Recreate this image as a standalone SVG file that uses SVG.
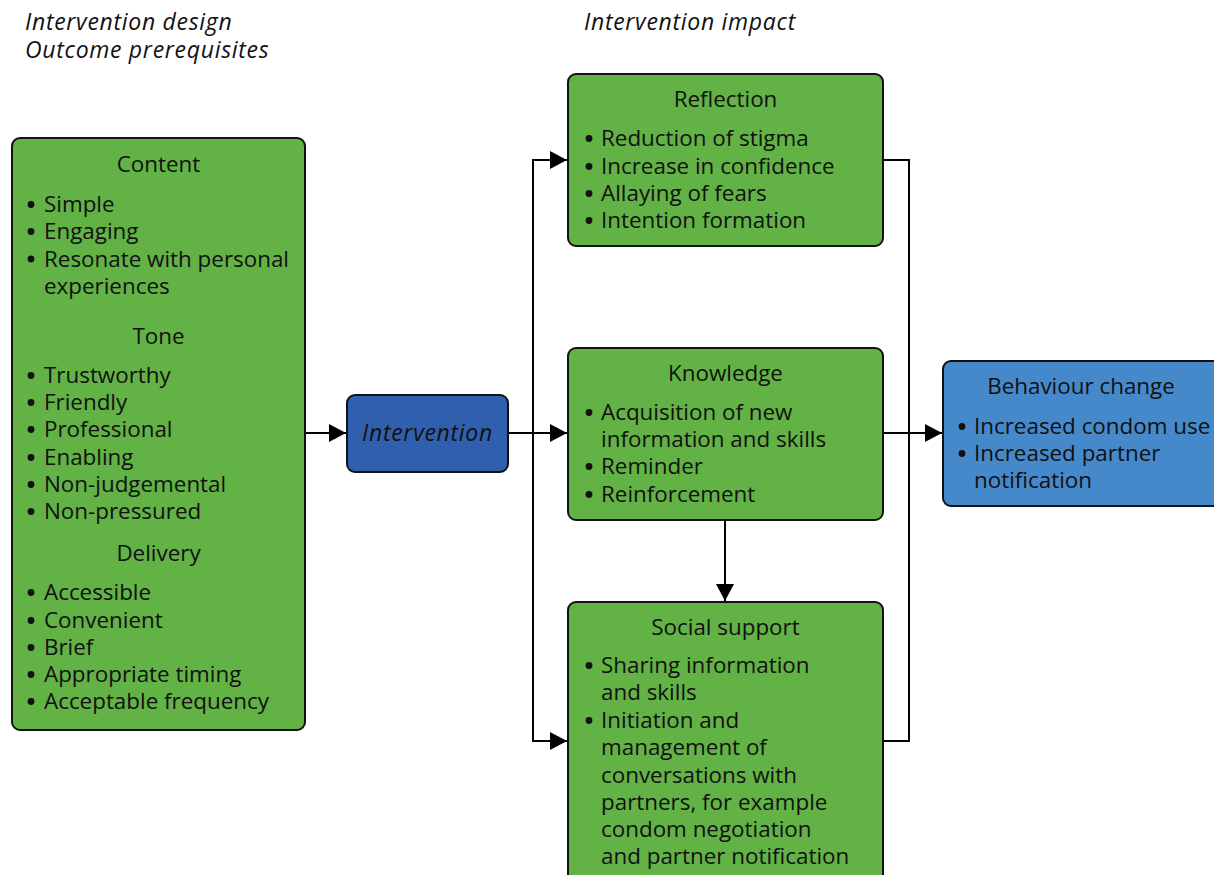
<svg xmlns="http://www.w3.org/2000/svg" width="1214" height="875" viewBox="0 0 1214 875">
<defs>
<style>
text{font-family:"Open Sans","Liberation Sans",sans-serif;font-size:22.4px;fill:#111}
.h{text-anchor:middle}
.i{font-style:italic;font-size:23px;letter-spacing:0.7px}
.u circle{fill:#111}
.g{fill:#62b246;stroke:#111;stroke-width:2}
.b1{fill:#305fad;stroke:#111;stroke-width:2}
.b2{fill:#4589ca;stroke:#111;stroke-width:2}
.c{fill:none;stroke:#000;stroke-width:2}
</style>
<marker id="a" markerUnits="userSpaceOnUse" markerWidth="17" markerHeight="18" viewBox="0 0 17 18" refX="17" refY="9" orient="auto">
<path d="M0,0 L17,9 L0,18 Z" fill="#000"/>
</marker>
</defs>
<g id="labels">
<text class="i" x="25" y="30">Intervention design</text>
<text class="i" x="25" y="58">Outcome prerequisites</text>
<text class="i" x="584" y="30">Intervention impact</text>
</g>
<g id="connectors">
<path class="c" d="M305,433 H346" marker-end="url(#a)"/>
<path class="c" d="M508,433 H567" marker-end="url(#a)"/>
<path class="c" d="M533,433 V160 H567" marker-end="url(#a)"/>
<path class="c" d="M533,433 V741 H567" marker-end="url(#a)"/>
<path class="c" d="M725,520 V601" marker-end="url(#a)"/>
<path class="c" d="M883,160 H909 V741 H883"/>
<path class="c" d="M883,433 H942" marker-end="url(#a)"/>
</g>
<g id="content">
<rect class="g" x="12" y="138" width="293" height="592" rx="8"/>
<text class="h" x="158.5" y="172">Content</text>
<g class="u">
<circle cx="31" cy="204.5" r="3.4"/><circle cx="31" cy="231.5" r="3.4"/><circle cx="31" cy="259" r="3.4"/>
<circle cx="31" cy="375.5" r="3.4"/><circle cx="31" cy="402.5" r="3.4"/><circle cx="31" cy="429.5" r="3.4"/><circle cx="31" cy="457.5" r="3.4"/><circle cx="31" cy="484.5" r="3.4"/><circle cx="31" cy="511.5" r="3.4"/>
<circle cx="31" cy="592.5" r="3.4"/><circle cx="31" cy="620.5" r="3.4"/><circle cx="31" cy="647.5" r="3.4"/><circle cx="31" cy="674.5" r="3.4"/><circle cx="31" cy="701.5" r="3.4"/>
</g>
<text x="44" y="212">Simple</text>
<text x="44" y="239">Engaging</text>
<text x="44" y="266.5">Resonate with personal</text>
<text x="44" y="294">experiences</text>
<text class="h" x="158.5" y="344">Tone</text>
<text x="44" y="383">Trustworthy</text>
<text x="44" y="410">Friendly</text>
<text x="44" y="437">Professional</text>
<text x="44" y="465">Enabling</text>
<text x="44" y="492">Non-judgemental</text>
<text x="44" y="519">Non-pressured</text>
<text class="h" x="158.5" y="561">Delivery</text>
<text x="44" y="600">Accessible</text>
<text x="44" y="628">Convenient</text>
<text x="44" y="655">Brief</text>
<text x="44" y="682">Appropriate timing</text>
<text x="44" y="709">Acceptable frequency</text>
</g>
<g id="intervention">
<rect class="b1" x="347" y="395" width="161" height="77" rx="8"/>
<text class="h i" x="427.5" y="441">Intervention</text>
</g>
<g id="reflection">
<rect class="g" x="568" y="74" width="315" height="172" rx="8"/>
<text class="h" x="725.5" y="107">Reflection</text>
<g class="u"><circle cx="589" cy="138.5" r="3.4"/><circle cx="589" cy="166.5" r="3.4"/><circle cx="589" cy="193.5" r="3.4"/><circle cx="589" cy="220.5" r="3.4"/></g>
<text x="601" y="146">Reduction of stigma</text>
<text x="601" y="174">Increase in confidence</text>
<text x="601" y="201">Allaying of fears</text>
<text x="601" y="228">Intention formation</text>
</g>
<g id="knowledge">
<rect class="g" x="568" y="348" width="315" height="172" rx="8"/>
<text class="h" x="725.5" y="381">Knowledge</text>
<g class="u"><circle cx="589" cy="412.5" r="3.4"/><circle cx="589" cy="466.5" r="3.4"/><circle cx="589" cy="494.5" r="3.4"/></g>
<text x="601" y="420">Acquisition of new</text>
<text x="601" y="447">information and skills</text>
<text x="601" y="474">Reminder</text>
<text x="601" y="502">Reinforcement</text>
</g>
<g id="social-support">
<rect class="g" x="568" y="602" width="315" height="290" rx="8"/>
<text class="h" x="725.5" y="635">Social support</text>
<g class="u"><circle cx="589" cy="665.5" r="3.4"/><circle cx="589" cy="720.5" r="3.4"/></g>
<text x="601" y="673">Sharing information</text>
<text x="601" y="700">and skills</text>
<text x="601" y="728">Initiation and</text>
<text x="601" y="755">management of</text>
<text x="601" y="783">conversations with</text>
<text x="601" y="810">partners, for example</text>
<text x="601" y="837">condom negotiation</text>
<text x="601" y="864">and partner notification</text>
</g>
<g id="behaviour-change">
<rect class="b2" x="943" y="361" width="290" height="145" rx="8"/>
<text class="h" x="1081" y="394">Behaviour change</text>
<g class="u"><circle cx="962" cy="426.5" r="3.4"/><circle cx="962" cy="453.5" r="3.4"/></g>
<text x="974" y="434">Increased condom use</text>
<text x="974" y="461">Increased partner</text>
<text x="974" y="488">notification</text>
</g>
</svg>
